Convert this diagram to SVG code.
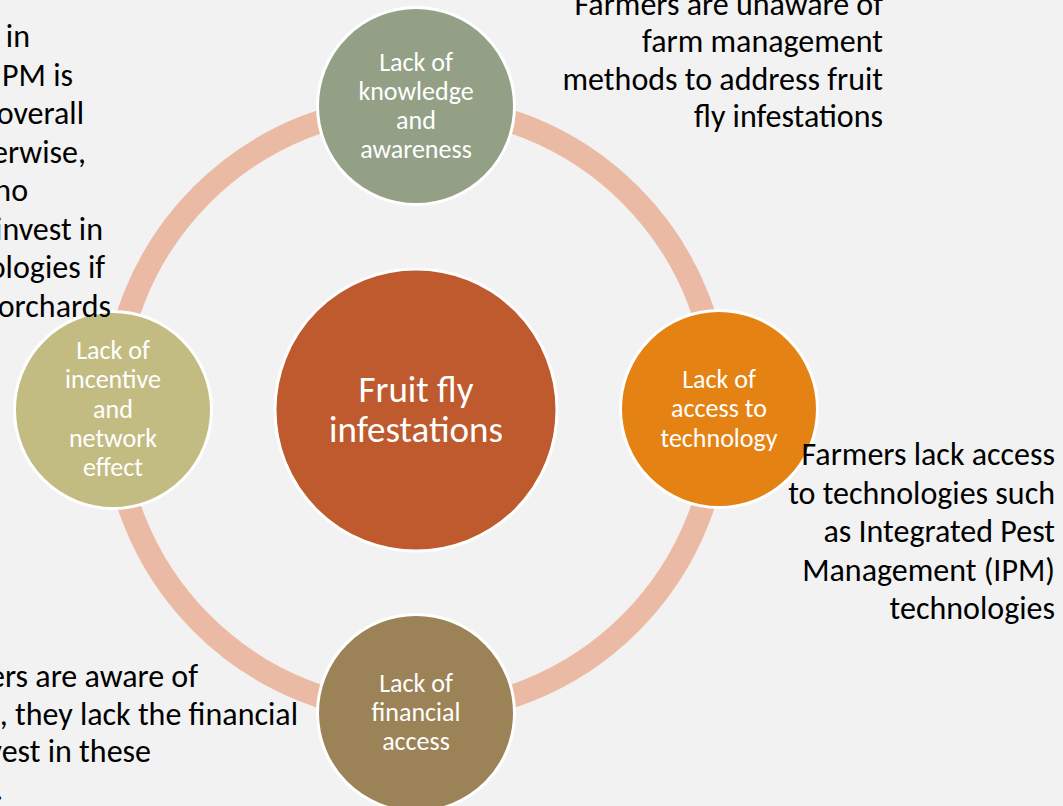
<svg xmlns="http://www.w3.org/2000/svg" width="1063" height="806" viewBox="0 0 1063 806">
<style>
.bg{fill:#F2F2F2}
.ring{fill:none;stroke:#EBBAA4;stroke-width:23}
.node{stroke:#FFFFFF;stroke-width:3}
.nt{font-family:Carlito,Lato,"Liberation Sans",sans-serif;font-size:26px;fill:#FFFFFF;text-anchor:middle}
.ct{font-family:Carlito,Lato,"Liberation Sans",sans-serif;font-size:37px;fill:#FFFFFF;text-anchor:middle}
.ann{font-family:Carlito,Lato,"Liberation Sans",sans-serif;font-size:32px;fill:#000000}
.r{text-anchor:end}
</style>
<rect class="bg" x="0" y="0" width="1063" height="806"/>
<g id="connectors">
<circle class="ring" cx="416" cy="409" r="303"/>
</g>
<g id="node-center">
<circle class="node" cx="416" cy="410" r="141" fill="#BE5A2D"/>
<text class="ct" x="416" y="402">Fruit fly</text>
<text class="ct" x="416" y="442">infestations</text>
</g>
<g id="node-knowledge">
<circle class="node" cx="416" cy="106" r="98.5" fill="#93A086"/>
<text class="nt" x="416" y="70.5">Lack of</text>
<text class="nt" x="416" y="99.8">knowledge</text>
<text class="nt" x="416" y="129">and</text>
<text class="nt" x="416" y="158.3">awareness</text>
</g>
<g id="node-technology">
<circle class="node" cx="719" cy="409" r="98.5" fill="#E48314"/>
<text class="nt" x="719" y="388">Lack of</text>
<text class="nt" x="719" y="417.3">access to</text>
<text class="nt" x="719" y="446.5">technology</text>
</g>
<g id="node-financial">
<circle class="node" cx="416" cy="713" r="98.5" fill="#9C8257"/>
<text class="nt" x="416" y="691.5">Lack of</text>
<text class="nt" x="416" y="720.8">financial</text>
<text class="nt" x="416" y="750">access</text>
</g>
<g id="node-incentive">
<circle class="node" cx="113" cy="410" r="98.5" fill="#C3BC82"/>
<text class="nt" x="113" y="359">Lack of</text>
<text class="nt" x="113" y="388.3">incentive</text>
<text class="nt" x="113" y="417.5">and</text>
<text class="nt" x="113" y="446.7">network</text>
<text class="nt" x="113" y="476">effect</text>
</g>
<g id="note-knowledge">
<text class="ann r" x="883" y="14.5">Farmers are unaware of</text>
<text class="ann r" x="883" y="52">farm management</text>
<text class="ann r" x="883" y="89.5">methods to address fruit</text>
<text class="ann r" x="883" y="127">fly infestations</text>
</g>
<g id="note-technology">
<text class="ann r" x="1055" y="465">Farmers lack access</text>
<text class="ann r" x="1055" y="503.5">to technologies such</text>
<text class="ann r" x="1055" y="542">as Integrated Pest</text>
<text class="ann r" x="1055" y="580.5">Management (IPM)</text>
<text class="ann r" x="1055" y="619">technologies</text>
</g>
<g id="note-incentive">
<text class="ann r" x="30" y="47">in</text>
<text class="ann r" x="73" y="85.5">IPM is</text>
<text class="ann r" x="84" y="124">overall</text>
<text class="ann r" x="86" y="162.5">erwise,</text>
<text class="ann r" x="28" y="201">no</text>
<text class="ann r" x="103" y="239.5">invest in</text>
<text class="ann r" x="105" y="278">ologies if</text>
<text class="ann r" x="111" y="316.5">orchards</text>
</g>
<g id="note-financial">
<text class="ann r" x="198" y="687">ers are aware of</text>
<text class="ann r" x="298" y="725">, they lack the financial</text>
<text class="ann r" x="151" y="762">vest in these</text>
<text class="ann" x="-5" y="800">.</text>
</g>
</svg>
